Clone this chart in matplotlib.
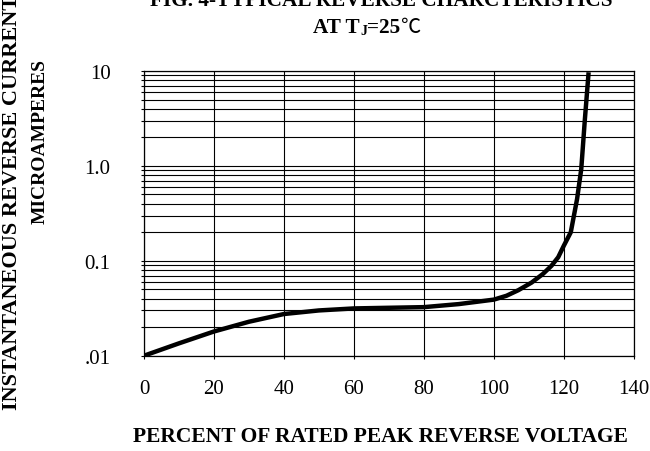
import matplotlib
matplotlib.use('Agg')
import matplotlib.pyplot as plt
from matplotlib.ticker import LogLocator, NullFormatter, FixedLocator, FixedFormatter

plt.rcParams['font.family'] = ['Liberation Serif', 'DejaVu Serif']

# curve
percent = [0, 10, 20, 30, 40, 50, 60, 70, 80, 90, 100, 103.6, 107, 110.8, 114,
           116.5, 118.4, 120, 122, 123.8, 125, 126, 127.1]
current = [0.010, 0.0135, 0.018, 0.0228, 0.0275, 0.030, 0.0315, 0.032, 0.0325,
           0.035, 0.039, 0.0428, 0.049, 0.059, 0.0725, 0.0888, 0.109, 0.144,
           0.2, 0.448, 0.93, 3.0, 9.7]

x_ticks = [0, 20, 40, 60, 80, 100, 120, 140]
y_ticks = [0.01, 0.1, 1, 10]
y_labels = ['.01', '0.1', '1.0', '10']

fig = plt.figure(figsize=(6.5, 4.52), dpi=100)
ax = fig.add_axes([0.2215, 0.2108, 0.7535, 0.6299])

ax.plot(percent, current, color='black', lw=3.2, solid_capstyle='butt', zorder=3)

ax.set_yscale('log')
ax.set_xlim(0, 140)
ax.set_ylim(0.01, 10)
ax.xaxis.set_major_locator(FixedLocator(x_ticks))
ax.yaxis.set_major_locator(FixedLocator(y_ticks))
ax.yaxis.set_major_formatter(FixedFormatter(y_labels))
ax.yaxis.set_minor_locator(LogLocator(base=10, subs=range(2, 10)))
ax.yaxis.set_minor_formatter(NullFormatter())

ax.grid(True, which='major', axis='both', color='black', lw=0.8)
ax.grid(True, which='minor', axis='y', color='black', lw=0.8)
for s in ax.spines.values():
    s.set_linewidth(0.9)

ax.tick_params(axis='both', which='both', direction='out', length=2, width=0.8,
               labelsize=15)
ax.tick_params(axis='x', pad=15)
ax.tick_params(axis='y', pad=22)

fig.text(380/650, 1 - 437/452, 'PERCENT OF RATED PEAK REVERSE VOLTAGE',
         ha='center', va='center', fontsize=15.5, fontweight='bold')
fig.text(12.5/650, 1 - 203/452, 'INSTANTANEOUS REVERSE CURRENT',
         ha='center', va='center', rotation=90, fontsize=16, fontweight='bold')
fig.text(40/650, 1 - 142/452, 'MICROAMPERES',
         ha='center', va='center', rotation=90, fontsize=14, fontweight='bold')

# title, first line runs off the top as in the original
fig.text(150/650, 1 - 6/452, 'FIG. 4-TYPICAL REVERSE CHARCTERISTICS',
         ha='left', va='baseline', fontsize=15.3, fontweight='bold')
t1 = fig.text(313/650, 1 - 33/452, 'AT T', ha='left', va='baseline',
              fontsize=15.3, fontweight='bold')
t2 = ax.annotate('J', xy=(1, 0), xycoords=t1, xytext=(0.5, 2),
                 textcoords='offset points', ha='left', va='baseline',
                 fontsize=10, fontweight='bold', annotation_clip=False)
t3 = ax.annotate('=25', xy=(1, 0), xycoords=(t2, t1), xytext=(0, 0),
                 textcoords='offset points', ha='left', va='bottom',
                 fontsize=15.3, fontweight='bold', annotation_clip=False)
ax.annotate('℃', xy=(1, 0), xycoords=(t3, t1), xytext=(0, 3.3),
            textcoords='offset points', ha='left', va='baseline',
            fontsize=14.5, family=['Noto Sans CJK SC', 'DejaVu Sans'],
            annotation_clip=False)

fig.savefig('out.png', dpi=100)
